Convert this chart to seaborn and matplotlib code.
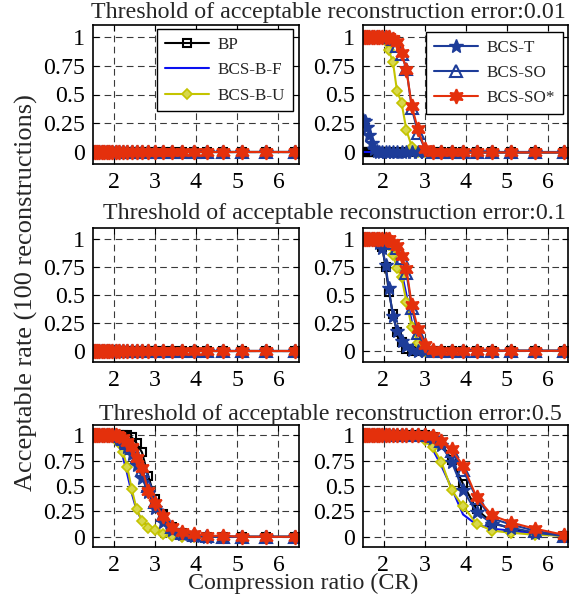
import matplotlib
matplotlib.use("Agg")
import matplotlib.pyplot as plt
from matplotlib.lines import Line2D
import seaborn as sns

# Compression ratios (N/M) shared by every curve
cr = [1.51, 1.55, 1.60, 1.65, 1.71, 1.77, 1.83, 1.90, 1.97, 2.05, 2.13, 2.23, 2.33,
      2.44, 2.56, 2.69, 2.84, 3.01, 3.20, 3.41, 3.66, 3.94, 4.27, 4.65, 5.12, 5.69, 6.40]

methods = ["BP", "BCS-B-F", "BCS-B-U", "BCS-T", "BCS-SO", "BCS-SO*"]
thresholds = ["0.01", "0.1", "0.5"]

# Left column, thresholds 0.01 and 0.1: no acceptable reconstruction at any CR
zero_rate = [0, 0, 0, 0, 0, 0, 0, 0, 0, 0, 0, 0, 0, 0, 0, 0, 0, 0, 0, 0, 0, 0, 0, 0, 0, 0, 0]

# Right column, threshold 0.01
bp_r001 = [0, 0, 0, 0, 0, 0, 0, 0, 0, 0, 0, 0, 0, 0, 0, 0, 0, 0, 0, 0, 0, 0, 0, 0, 0, 0, 0]
bf_r001 = [0, 0, 0, 0, 0, 0, 0, 0, 0, 0, 0, 0, 0, 0, 0, 0, 0, 0, 0, 0, 0, 0, 0, 0, 0, 0, 0]
bu_r001 = [1, 1, 1, 1, 1, 1, 1, 1, 1, 0.96, 0.88, 0.78, 0.53, 0.43, 0.19, 0.05, 0,
           0, 0, 0, 0, 0, 0, 0, 0, 0, 0]
t_r001 = [0.28, 0.27, 0.22, 0.15, 0.08, 0.03, 0.01, 0, 0, 0, 0, 0, 0, 0, 0, 0, 0,
          0, 0, 0, 0, 0, 0, 0, 0, 0, 0]
so_r001 = [1, 1, 1, 1, 1, 1, 1, 1, 1, 1, 1, 0.98, 0.92, 0.85, 0.72, 0.38, 0.17, 0.03,
           0, 0, 0, 0, 0, 0, 0, 0, 0]
sos_r001 = [1, 1, 1, 1, 1, 1, 1, 1, 1, 1, 1, 0.98, 0.95, 0.86, 0.71, 0.40, 0.20, 0.03,
            0, 0, 0, 0, 0, 0, 0, 0, 0]

# Right column, threshold 0.1
bp_r01 = [1, 1, 1, 1, 1, 1, 1, 1, 0.93, 0.75, 0.53, 0.33, 0.17, 0.08, 0.02, 0, 0,
          0, 0, 0, 0, 0, 0, 0, 0, 0, 0]
bf_r01 = [1, 1, 1, 1, 1, 1, 1, 1, 1, 1, 1, 0.92, 0.80, 0.71, 0.50, 0.26, 0.08, 0.01,
          0, 0, 0, 0, 0, 0, 0, 0, 0]
bu_r01 = [1, 1, 1, 1, 1, 1, 1, 1, 1, 1, 0.95, 0.86, 0.74, 0.66, 0.44, 0.21, 0.07, 0,
          0, 0, 0, 0, 0, 0, 0, 0, 0]
t_r01 = [1, 1, 1, 1, 1, 1, 1, 0.97, 0.92, 0.77, 0.56, 0.31, 0.18, 0.09, 0.04, 0.01, 0,
         0, 0, 0, 0, 0, 0, 0, 0, 0, 0]
so_r01 = [1, 1, 1, 1, 1, 1, 1, 1, 1, 1, 1, 0.97, 0.92, 0.83, 0.70, 0.38, 0.16, 0.03,
          0, 0, 0, 0, 0, 0, 0, 0, 0]
sos_r01 = [1, 1, 1, 1, 1, 1, 1, 1, 1, 1, 1, 0.97, 0.94, 0.85, 0.73, 0.41, 0.20, 0.05,
           0.01, 0, 0, 0, 0, 0, 0, 0, 0]

# Left column, threshold 0.5
bp_l05 = [1, 1, 1, 1, 1, 1, 1, 1, 1, 1, 1, 1, 1.0, 0.98, 0.92, 0.83, 0.60, 0.37,
          0.22, 0.10, 0.04, 0.01, 0, 0, 0, 0, 0]
bf_l05 = [1, 1, 1, 1, 1, 1, 1, 1, 1, 0.97, 0.90, 0.78, 0.62, 0.43, 0.26, 0.16, 0.10,
          0.06, 0.03, 0.01, 0, 0, 0, 0, 0, 0, 0]
bu_l05 = [1, 1, 1, 1, 1, 1, 1, 1, 0.99, 0.96, 0.92, 0.83, 0.69, 0.47, 0.27, 0.16,
          0.09, 0.07, 0.03, 0.01, 0, 0, 0, 0, 0, 0, 0]
t_l05 = [1, 1, 1, 1, 1, 1, 1, 1, 1, 0.99, 0.97, 0.93, 0.88, 0.81, 0.71, 0.58, 0.44,
         0.28, 0.15, 0.07, 0.03, 0.01, 0, 0, 0, 0, 0]
so_l05 = [1, 1, 1, 1, 1, 1, 1, 1, 1, 1, 0.99, 0.96, 0.92, 0.87, 0.79, 0.66, 0.50,
          0.34, 0.21, 0.10, 0.04, 0.02, 0.01, 0, 0, 0, 0]
sos_l05 = [1, 1, 1, 1, 1, 1, 1, 1, 1, 1, 0.99, 0.97, 0.93, 0.88, 0.78, 0.68, 0.45,
           0.33, 0.20, 0.10, 0.05, 0.03, 0.01, 0.01, 0, 0, 0]

# Right column, threshold 0.5
bp_r05 = [1, 1, 1, 1, 1, 1, 1, 1, 1, 1, 1, 1, 1, 1, 1, 1, 1, 1, 0.98, 0.92, 0.76,
          0.52, 0.27, 0.14, 0.08, 0.04, 0.01]
bf_r05 = [1, 1, 1, 1, 1, 1, 1, 1, 1, 1, 1, 1, 1, 1, 1, 1, 1, 0.96, 0.86, 0.70, 0.48,
          0.22, 0.12, 0.08, 0.06, 0.03, 0.01]
bu_r05 = [1, 1, 1, 1, 1, 1, 1, 1, 1, 1, 1, 1, 1, 1, 1, 1, 0.99, 0.95, 0.88, 0.74,
          0.46, 0.30, 0.13, 0.06, 0.04, 0.02, 0.01]
t_r05 = [1, 1, 1, 1, 1, 1, 1, 1, 1, 1, 1, 1, 1, 1, 1, 1, 1, 1, 0.97, 0.90, 0.74,
         0.46, 0.24, 0.13, 0.09, 0.04, 0.01]
so_r05 = [1, 1, 1, 1, 1, 1, 1, 1, 1, 1, 1, 1, 1, 1, 1, 1, 1, 1, 0.99, 0.94, 0.84,
          0.66, 0.38, 0.18, 0.12, 0.06, 0.01]
sos_r05 = [1, 1, 1, 1, 1, 1, 1, 1, 1, 1, 1, 1, 1, 1, 1, 1, 1, 1, 0.99, 0.94, 0.86,
           0.70, 0.39, 0.21, 0.14, 0.08, 0.02]

panel_data = [
    [[zero_rate] * 6, [bp_r001, bf_r001, bu_r001, t_r001, so_r001, sos_r001]],
    [[zero_rate] * 6, [bp_r01, bf_r01, bu_r01, t_r01, so_r01, sos_r01]],
    [[bp_l05, bf_l05, bu_l05, t_l05, so_l05, sos_l05],
     [bp_r05, bf_r05, bu_r05, t_r05, so_r05, sos_r05]],
]

navy = "#1d3c99"
styles = {
    "BP": dict(color="black", marker="s", markersize=6, markerfacecolor="none",
               markeredgecolor="black", markeredgewidth=1.5),
    "BCS-B-F": dict(color="#0a10f0", marker=None),
    "BCS-B-U": dict(color="#c4c400", marker="D", markersize=5.5,
                    markerfacecolor="#d8d84a", markeredgecolor="#c4c400",
                    markeredgewidth=1.2),
    "BCS-T": dict(color=navy, marker="*", markersize=10, markerfacecolor=navy,
                  markeredgecolor=navy, markeredgewidth=1.0),
    "BCS-SO": dict(color=navy, marker="^", markersize=8, markerfacecolor="none",
                   markeredgecolor=navy, markeredgewidth=1.5),
    "BCS-SO*": dict(color="#e4300c", marker=(6, 1, 0), markersize=10.5,
                    markerfacecolor="#e4300c", markeredgecolor="#e4300c",
                    markeredgewidth=1.3),
}

sns.set_theme(style="white")
plt.rcParams["font.family"] = ["Liberation Serif", "DejaVu Serif"]

W, H = 580, 601
fig = plt.figure(figsize=(W / 100, H / 100), dpi=100)

col_x = [(93, 299), (363, 568)]
row_y = [(25, 164), (228, 362), (425, 547)]


def px_rect(x0, x1, y0, y1):
    return [x0 / W, 1 - y1 / H, (x1 - x0) / W, (y1 - y0) / H]


axes = []
for r, (y0, y1) in enumerate(row_y):
    row_axes = []
    for c, (x0, x1) in enumerate(col_x):
        ax = fig.add_axes(px_rect(x0, x1, y0, y1))
        for name, ys in zip(methods, panel_data[r][c]):
            sns.lineplot(x=cr, y=ys, ax=ax, linewidth=1.5, legend=False,
                         **styles[name])
        ax.set_xlim(1.5, 6.5)
        ax.set_ylim(-0.1, 1.1)
        ax.set_xticks([2, 3, 4, 5, 6])
        ax.set_xticklabels(["2", "3", "4", "5", "6"])
        ax.set_yticks([0, 0.25, 0.5, 0.75, 1])
        ax.set_yticklabels(["0", "0.25", "0.5", "0.75", "1"])
        ax.grid(True, color="#3a3a3a", linestyle=(0, (6, 4)), linewidth=0.8)
        ax.set_axisbelow(True)
        ax.tick_params(direction="in", length=4, width=0.8, top=True, right=True,
                       bottom=True, left=True, labelsize=17.2, colors="black",
                       pad=6)
        for s in ax.spines.values():
            s.set_color("black")
            s.set_linewidth(1.2)
        ax.set_xlabel("")
        ax.set_ylabel("")
        row_axes.append(ax)
    axes.append(row_axes)


def handles_for(names):
    hs = []
    for n in names:
        hs.append(Line2D([], [], linewidth=1.5, label=n, **styles[n]))
    return hs


leg_kw = dict(fontsize=12.3, frameon=True, fancybox=False, framealpha=1,
              edgecolor="black", handlelength=2.6, handletextpad=0.5,
              labelspacing=0.55, borderpad=0.45, borderaxespad=0.0,
              loc="upper right")
l1 = axes[0][0].legend(handles=handles_for(methods[:3]),
                       bbox_to_anchor=(0.971, 0.971), **leg_kw)
l2 = axes[0][1].legend(handles=handles_for(methods[3:]),
                       bbox_to_anchor=(0.976, 0.95), **leg_kw)
for lg in (l1, l2):
    lg.get_frame().set_linewidth(1.0)

titles_px = [(328, 18), (334, 219), (330, 420)]
for thr, (tx, ty) in zip(thresholds, titles_px):
    fig.text(tx / W, 1 - ty / H,
             "Threshold of acceptable reconstruction error:" + thr,
             ha="center", va="baseline", fontsize=17.3)

fig.text(26 / W, 1 - 293 / H, "Acceptable rate (100 reconstructions)",
         rotation=90, ha="center", va="center", fontsize=19)
fig.text(303 / W, 1 - 589 / H, "Compression ratio (CR)",
         ha="center", va="baseline", fontsize=17.3)

fig.savefig("out.png", dpi=100)
